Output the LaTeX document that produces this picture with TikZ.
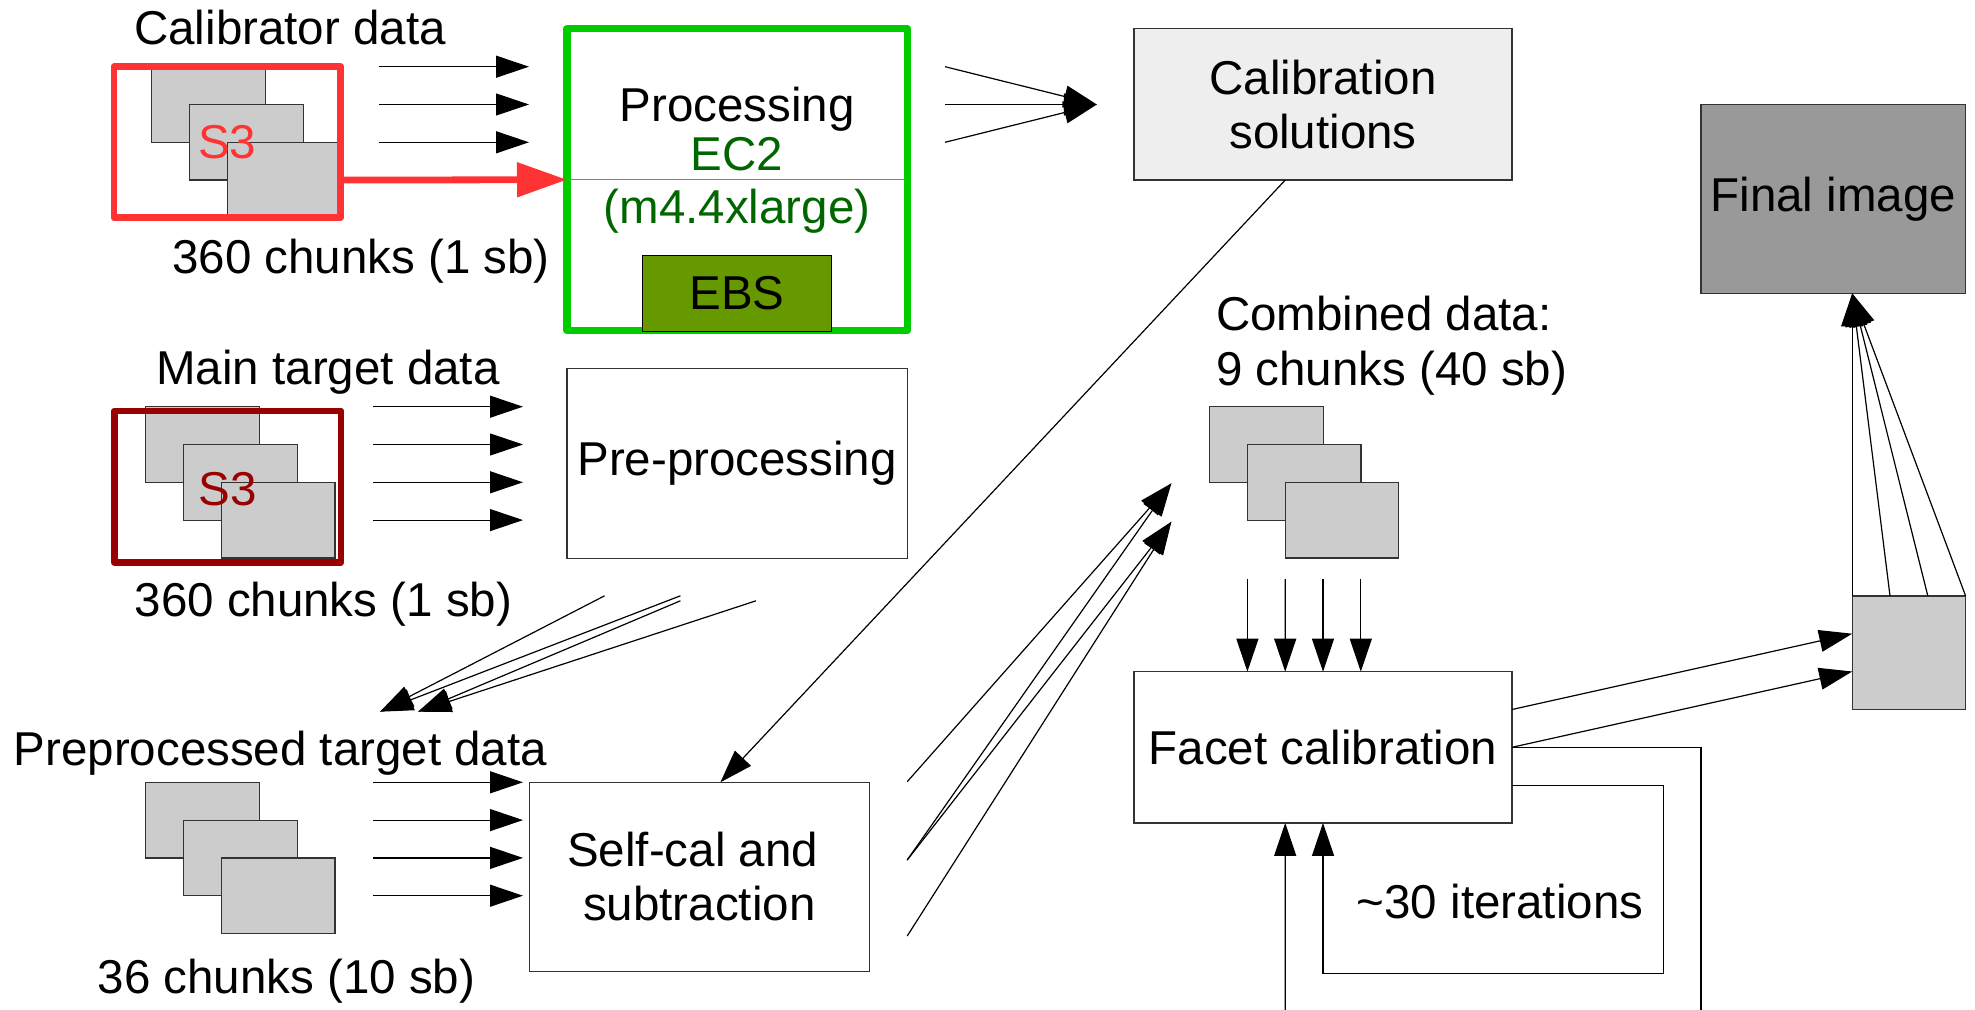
\documentclass[tikz,border=0pt]{standalone}
\usepackage{fontspec}
\setmainfont{Liberation Sans}
\usetikzlibrary{arrows.meta}
\definecolor{calred}{RGB}{255,51,51}
\definecolor{tgtred}{RGB}{153,0,0}
\definecolor{ecgreen}{RGB}{0,204,0}
\definecolor{ectext}{RGB}{0,102,0}
\definecolor{ebsfill}{RGB}{102,153,0}
\definecolor{chunkgray}{RGB}{204,204,204}
\definecolor{solgray}{RGB}{238,238,238}
\definecolor{finalgray}{RGB}{153,153,153}
\definecolor{edge}{RGB}{51,51,51}
\begin{document}
\begin{tikzpicture}[x=0.5pt,y=-0.5pt,
  every node/.style={inner sep=0pt, outer sep=0pt, font=\fontsize{23.75pt}{27pt}\selectfont},
  txt/.style={anchor=base},
  chunk/.style={draw=edge, line width=0.6pt, fill=chunkgray, anchor=north west,
                minimum width=56.8pt, minimum height=37.8pt},
  box/.style={draw=edge, line width=0.6pt, anchor=north west, align=center},
  store/.style={line width=3.4pt, line join=round, anchor=north west},
  arr/.style={draw=black, line width=0.6pt, -{Triangle[length=16.5pt,width=11pt]}},
  wire/.style={draw=black, line width=0.6pt}
]
\fill[white] (0,0) rectangle (1975,1010);
\useasboundingbox (0,0) rectangle (1975,1010);

% ---------- calibrator data ----------
\node[txt] (caltitle) at (290,45) {Calibrator data};
\node[chunk] (cal1) at (151.7,66.7) {};
\node[chunk] (cal2) at (189.5,104.5) {};
\node[chunk] (cal3) at (227.3,142.3) {};
\node[txt, text=calred] (cals3) at (227.3,159) {S3};
\node[store, draw=calred, minimum width=113.35pt, minimum height=75.6pt] (calstore) at (114,66.7) {};
\node[txt] (calcount) at (361,274) {360 chunks (1 sb)};
\foreach \i/\y in {1/66.7,2/104.5,3/142.3}{
  \coordinate (cain\i) at (379,\y);
  \coordinate (caout\i) at (529,\y);
  \draw[arr] (cain\i) -- (caout\i);
}

% ---------- processing on EC2 ----------
\node[store, draw=ecgreen, line width=3.6pt, minimum width=170.1pt, minimum height=150.8pt] (proc) at (567,28.9) {};
\draw[draw=gray, line width=0.6pt] (proc.west) -- (proc.east);
\node[txt] (proclabel) at (737,121.7) {Processing};
\node[txt, text=ectext] (ec2) at (737,170.4) {EC2};
\node[txt, text=ectext] (ectype) at (737,224) {(m4.4xlarge)};
\node[box, draw=black, fill=ebsfill, minimum width=94.5pt, minimum height=37.8pt] (ebs) at (642.6,255.7) {EBS};
\draw[line width=3.4pt, draw=calred, -{Triangle[length=25pt,width=16.7pt]}] (cal3.east) -- (proc.west);

% ---------- calibration solutions ----------
\node[box, fill=solgray, minimum width=189pt, minimum height=75.6pt] (sol) at (1134,28.9) {Calibration\\solutions};
\coordinate (soltip) at (1096.8,104.5);
\foreach \i/\y in {1/66.7,2/104.5,3/142.3}{
  \coordinate (cs\i) at (945,\y);
  \draw[arr] (cs\i) -- (soltip);
}

% ---------- final image ----------
\node[box, fill=finalgray, minimum width=132.3pt, minimum height=94.5pt] (final) at (1701,104.3) {Final image};

% ---------- main target data ----------
\node[txt] (tgttitle) at (328,385) {Main target data};
\node[chunk] (tgt1) at (145.8,406.7) {};
\node[chunk] (tgt2) at (183.6,444.5) {};
\node[chunk] (tgt3) at (221.4,482.3) {};
\node[txt, text=tgtred] (tgts3) at (227.7,505) {S3};
\node[store, draw=tgtred, minimum width=113.25pt, minimum height=75.75pt] (tgtstore) at (114.4,411) {};
\node[txt] (tgtcount) at (323.4,616.7) {360 chunks (1 sb)};
\foreach \i/\y in {1/406.7,2/444.5,3/482.3,4/520.1}{
  \coordinate (tin\i) at (373,\y);
  \coordinate (tout\i) at (523,\y);
  \draw[arr] (tin\i) -- (tout\i);
}

% ---------- pre-processing ----------
\node[box, minimum width=170.1pt, minimum height=94.7pt] (pre) at (567,368.9) {Pre-processing};
\coordinate (pp1) at (604.6,595.8);
\coordinate (pp2) at (680.4,595.8);
\coordinate (pp3) at (680.4,600.8);
\coordinate (pp4) at (756,600.8);
\coordinate (ppA) at (380,711.7);
\coordinate (ppB) at (418,711.7);
\draw[arr] (pp1) -- (ppA);
\draw[arr] (pp2) -- (ppA);
\draw[arr] (pp3) -- (ppB);
\draw[arr] (pp4) -- (ppB);

% ---------- preprocessed target data ----------
\node[txt] (pptitle) at (280.4,765) {Preprocessed target data};
\node[chunk] (ppd1) at (145.8,782.3) {};
\node[chunk] (ppd2) at (183.6,820.1) {};
\node[chunk] (ppd3) at (221.4,857.9) {};
\node[txt] (ppcount) at (286.4,993) {36 chunks (10 sb)};
\foreach \i/\y in {1/782.3,2/820.1,3/857.9,4/895.7}{
  \coordinate (pin\i) at (373,\y);
  \coordinate (pout\i) at (523,\y);
  \draw[arr] (pin\i) -- (pout\i);
}

% ---------- self-calibration ----------
\node[box, minimum width=170.1pt, minimum height=94.5pt] (self) at (529.2,782.3) {Self-cal and\rule{6.6pt}{0pt}\\subtraction};
\draw[arr] ([xshift=-18.9pt]sol.south) -- ([xshift=10.55pt]self.north);
\coordinate (sc1) at (907.2,781.7);
\coordinate (sc2) at (907.2,860);
\coordinate (sc3) at (907.2,936);
\coordinate (scA) at (1171.4,483.3);
\coordinate (scB) at (1171.4,521.7);
\draw[arr] (sc1) -- (scA);
\draw[arr] (sc2) -- (scA);
\draw[arr] (sc2) -- (scB);
\draw[arr] (sc3) -- (scB);

% ---------- combined data ----------
\node[anchor=base west] (comb1) at (1216,331) {Combined data:};
\node[anchor=base west] (comb2) at (1216,386) {9 chunks (40 sb)};
\node[chunk] (cmb1) at (1209.6,406.7) {};
\node[chunk] (cmb2) at (1247.4,444.5) {};
\node[chunk] (cmb3) at (1285.2,482.3) {};

% ---------- facet calibration ----------
\node[box, minimum width=189pt, minimum height=75.6pt] (facet) at (1134,671.7) {Facet calibration};
\foreach \i/\x/\s in {1/1247.4/-37.8,2/1285.2/-18.9,3/1323/0,4/1360.8/18.9}{
  \coordinate (cd\i) at (\x,579);
  \draw[arr] (cd\i) -- ([xshift=\s pt]facet.north);
}

% iteration loop
\coordinate (loopout) at (1701,1010);
\draw[wire] (facet.east) -| (loopout);
\coordinate (loopturn) at (1663.2,973.3);
\draw[arr] ([yshift=-18.9pt]facet.east) -| (loopturn) -| (facet.south);
\coordinate (loopin) at (1285.2,1010);
\draw[arr] (loopin) -- ([xshift=-18.9pt]facet.south);
\node[txt] (iter) at (1500,918) {\textasciitilde30 iterations};

% ---------- facet images to final image ----------
\node[chunk, minimum width=56.7pt, minimum height=56.7pt] (part) at (1852.2,595.9) {};
\draw[arr] ([yshift=18.9pt]facet.east) -- ([yshift=9.45pt]part.west);
\draw[arr] (facet.east) -- ([yshift=-9.45pt]part.west);
\draw[arr] (part.north west) -- ([xshift=9.45pt]final.south);
\draw[arr] ([xshift=18.9pt]part.north west) -- ([xshift=9.45pt]final.south);
\draw[arr] ([xshift=37.8pt]part.north west) -- ([xshift=9.45pt]final.south);
\draw[arr] (part.north east) -- ([xshift=9.45pt]final.south);
\end{tikzpicture}
\end{document}
